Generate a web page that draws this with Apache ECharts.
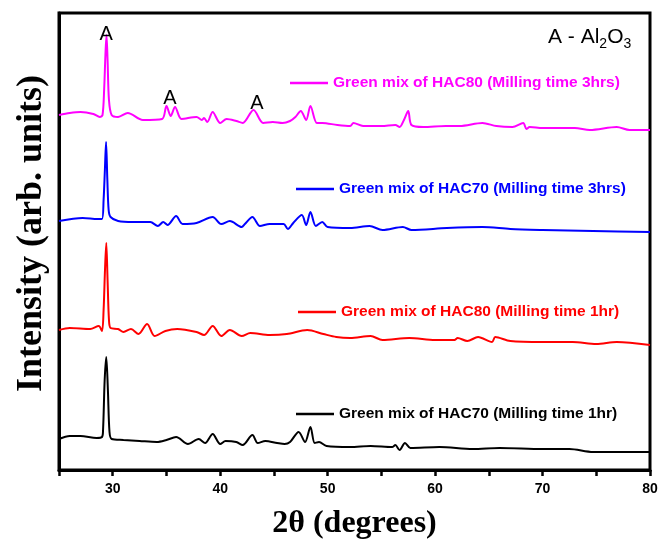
<!DOCTYPE html>
<html>
<head>
<meta charset="utf-8">
<script src="https://cdn.jsdelivr.net/npm/echarts@6/dist/echarts.min.js"></script>
<style>
  html, body { margin: 0; padding: 0; background: #fff; }
  #chart { width: 670px; height: 539px; }
</style>
</head>
<body>
<div id="chart"></div>
<script>
// 2theta / intensity (arb. units, curves already offset for stacking)
var hac70_1hr = [
  [25, 31], [26, 34], [27, 34], [28.5, 32], [29.0, 33], [29.1, 40], [29.25, 90], [29.4, 113], [29.55, 80], [29.7, 38], [29.9, 31],
  [31, 30], [32.5, 29], [34.1, 28], [35.0, 30], [35.9, 33], [37.0, 26], [38.0, 31], [38.6, 27], [39.3, 36], [40.0, 26],
  [40.5, 29], [41.5, 28], [42.1, 25], [43.0, 35], [43.5, 27], [44.2, 29], [45.3, 27], [46.0, 26], [46.5, 28], [47.3, 38],
  [47.9, 28], [48.4, 43], [48.8, 27], [49.2, 28], [49.9, 24], [52.1, 23], [54, 24], [56.0, 23], [56.3, 25], [56.7, 20],
  [57.2, 27], [57.7, 22], [60.4, 23], [63.5, 21], [66, 22], [70, 21], [72.5, 21], [74.7, 18], [78.1, 18], [80, 18]
];
var hac80_1hr = [
  [25, 140], [26, 142], [27.9, 141], [28.7, 144], [29.0, 139], [29.15, 160], [29.28, 200], [29.4, 227], [29.52, 190], [29.65, 150],
  [29.8, 142], [30.5, 141], [31.0, 138], [31.7, 141], [32.4, 136], [33.2, 146], [33.9, 134], [34.9, 139], [36.0, 141], [37.8, 138],
  [38.5, 135], [39.3, 144], [40.1, 134], [40.9, 140], [42.0, 134], [42.8, 137], [44.6, 135], [46.2, 136], [48.1, 140], [49.6, 136],
  [50.8, 133], [52.1, 132], [54.0, 134], [55.1, 130], [57.6, 132], [60, 130], [61.8, 130], [62.1, 132], [63.0, 129], [64.0, 133],
  [65.3, 128], [65.6, 133], [67.0, 129], [70, 128], [72.8, 128], [75, 126], [76.9, 128], [80, 125]
];
var hac70_3hrs = [
  [25, 249], [27.2, 252], [28.6, 251], [29.0, 251], [29.15, 270], [29.27, 300], [29.38, 328], [29.5, 290], [29.62, 260], [29.8, 253],
  [30.5, 249], [31.9, 248], [33.5, 248], [34.2, 244], [34.7, 248], [35.1, 245], [35.9, 254], [36.5, 246], [37.8, 247], [39.3, 253],
  [40.1, 246], [40.9, 249], [42.0, 243], [42.3, 246], [43.0, 253], [43.7, 244], [44.6, 246], [45.9, 246], [46.3, 241], [46.8, 247],
  [47.6, 255], [48.0, 245], [48.4, 258], [48.9, 244], [49.5, 248], [50.0, 243], [52.1, 242], [53.9, 244], [55.1, 240], [57.0, 243],
  [57.8, 240], [61.1, 242], [64.4, 243], [67.0, 241], [70, 240], [74.7, 239], [80, 238]
];
var hac80_3hrs = [
  [25, 355], [26.0, 357], [27, 358], [28.2, 356], [28.8, 353], [29.05, 355], [29.2, 380], [29.32, 415], [29.42, 435], [29.52, 410],
  [29.65, 370], [29.9, 355], [30.5, 353], [31.4, 357], [32.8, 350], [34.6, 351], [35.0, 364], [35.4, 354], [35.8, 363], [36.4, 351],
  [37.8, 353], [38.3, 350], [38.5, 352], [38.8, 348], [39.3, 358], [40.0, 347], [40.6, 351], [41.5, 349], [42.1, 347], [43.1, 360],
  [44.0, 347], [44.9, 348], [45.8, 347], [46.5, 349], [47.0, 353], [47.5, 359], [48.0, 350], [48.4, 364], [49.0, 347], [49.5, 347],
  [50.9, 345], [52.1, 344], [52.4, 347], [53.3, 344], [55, 344], [56.3, 345], [56.7, 343], [57.1, 350], [57.5, 359], [57.8, 345],
  [58.9, 343], [61, 344], [62.3, 344], [64.4, 347], [65.7, 344], [67.2, 343], [68.2, 347], [68.5, 341], [68.8, 343], [70, 342],
  [73, 342], [74.4, 340], [76.9, 343], [78.1, 340], [80, 340]
];
// Al2O3 peak labels
var peakMarks = [[29.4, 436], [35.33, 372], [43.42, 367]];

var names = [
  'Green mix of HAC70 (Milling time 1hr)',
  'Green mix of HAC80 (Milling time 1hr)',
  'Green mix of HAC70 (Milling time 3hrs)',
  'Green mix of HAC80 (Milling time 3hrs)'
];
var colors = ['#000000', '#ff0000', '#0000ff', '#ff00ff'];
var datas = [hac70_1hr, hac80_1hr, hac70_3hrs, hac80_3hrs];
var legendPos = [[296, 406], [298, 304], [296, 181], [290, 75]];

var chart = echarts.init(document.getElementById('chart'));

var series = [];
var legends = [];
for (var i = 0; i < names.length; i++) {
    series.push({
        name: names[i],
        type: 'line',
        data: datas[i],
        showSymbol: false,
        smooth: 0.3,
        lineStyle: { color: colors[i], width: 2 },
        itemStyle: { color: colors[i] },
        z: 3
    });
    legends.push({
        data: [names[i]],
        left: legendPos[i][0],
        top: legendPos[i][1],
        icon: 'rect',
        itemWidth: 38,
        itemHeight: 2.5,
        padding: 0,
        selectedMode: false,
        textStyle: { color: colors[i], fontSize: 15.5, fontWeight: 'bold', fontFamily: 'Liberation Sans, Arial' }
    });
}
series[3].markPoint = {
    symbol: 'circle',
    symbolSize: 0,
    label: { show: true, position: 'inside', formatter: 'A', color: '#000', fontSize: 20, fontFamily: 'Liberation Sans, Arial' },
    data: peakMarks.map(function(p) { return { coord: p }; })
};

var option = {
    animation: false,
    backgroundColor: '#fff',
    grid: {
        left: 59, right: 20, top: 13, bottom: 69,
        outerBoundsMode: 'none',
        show: true, borderColor: '#000', borderWidth: 3
    },
    legend: legends,
    xAxis: {
        type: 'value',
        min: 25,
        max: 80,
        interval: 5,
        name: '{b|2}θ (degrees)',
        nameLocation: 'middle',
        nameGap: 38,
        nameTextStyle: {
            fontFamily: 'Liberation Serif, serif', fontSize: 32, fontWeight: 'bold', color: '#000',
            rich: { b: { fontFamily: 'Liberation Serif, serif', fontSize: 32, fontWeight: 'bold', color: '#000' } }
        },
        axisLine: { lineStyle: { color: '#000', width: 3 } },
        axisTick: { inside: false, length: 6, lineStyle: { color: '#000', width: 2.5 } },
        splitLine: { show: false },
        axisLabel: {
            margin: 12,
            color: '#000',
            fontSize: 14,
            fontWeight: 'bold',
            fontFamily: 'Liberation Sans, Arial',
            formatter: function(v) { return v % 10 === 0 ? v : ''; }
        }
    },
    yAxis: {
        type: 'value',
        min: 0,
        max: 457,
        name: 'Intensity (arb. units)',
        nameLocation: 'middle',
        nameGap: 9,
        nameTextStyle: {
            fontFamily: 'Liberation Serif, serif', fontSize: 36, fontWeight: 'bold', color: '#000',
            padding: [0, 0, 0, 16]
        },
        axisLine: { show: true, lineStyle: { color: '#000', width: 3 } },
        axisTick: { show: false },
        axisLabel: { show: false },
        splitLine: { show: false }
    },
    graphic: [{
        type: 'text',
        left: 548,
        top: 27,
        style: {
            text: 'A - Al{s|2}O{s|3}',
            fontSize: 21,
            fontFamily: 'Liberation Sans, Arial',
            fill: '#000',
            rich: { s: { fontSize: 14, padding: [13, 0, 0, 0], fontFamily: 'Liberation Sans, Arial' } }
        }
    }],
    series: series
};
chart.setOption(option);
</script>
</body>
</html>
